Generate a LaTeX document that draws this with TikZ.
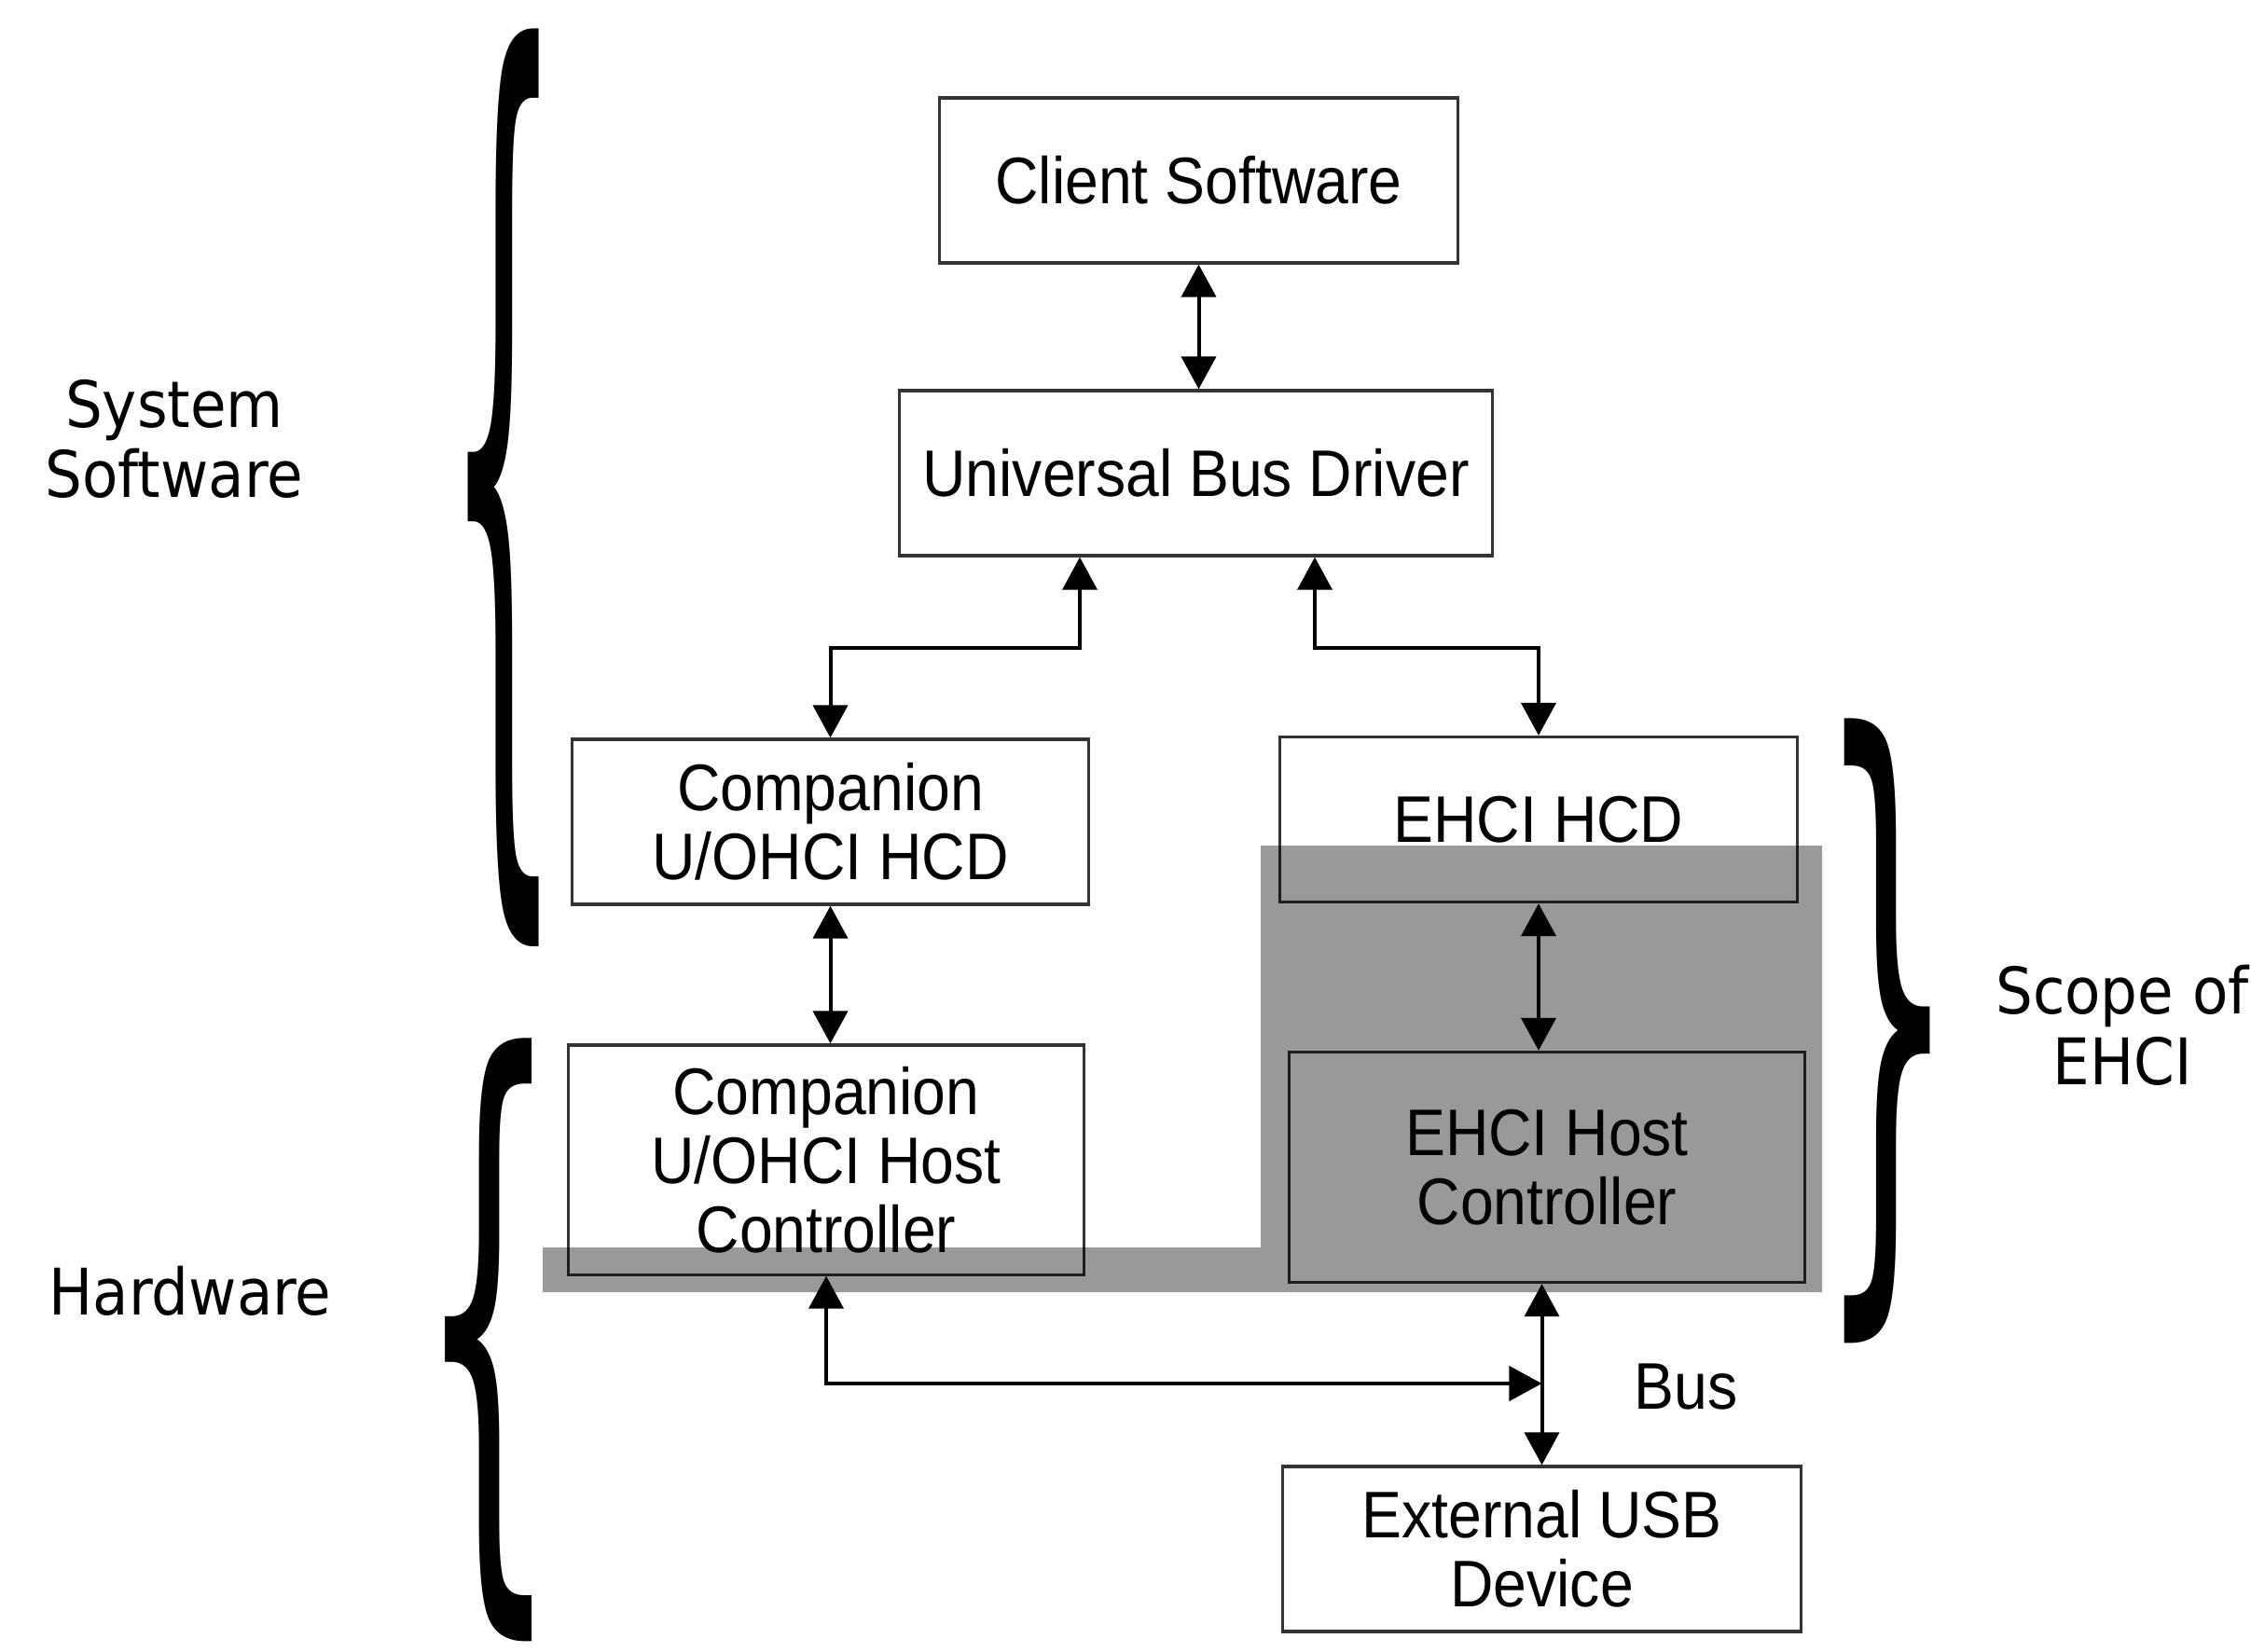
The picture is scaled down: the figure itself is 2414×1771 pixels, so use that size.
\documentclass[tikz,border=0pt]{standalone}
\usepackage{fontspec}
\setmainfont{Liberation Sans}
\newfontfamily\boxfont{Liberation Sans}[FakeStretch=0.91]
\newfontfamily\djv{DejaVu Sans}
\newfontfamily\sidefont{DejaVu Sans}[FakeStretch=0.91]
\usepackage{graphicx}
\usetikzlibrary{arrows.meta}
\definecolor{boxc}{HTML}{333333}
\begin{document}
\begin{tikzpicture}[x=0.01cm,y=-0.01cm,
  box/.style={draw=boxc, line width=0.032cm, align=center, inner sep=0pt,
              font=\boxfont\fontsize{20.1}{21}\selectfont},
  arr/.style={line width=0.04cm,
              {Triangle[length=0.35cm,width=0.37cm]}-{Triangle[length=0.35cm,width=0.37cm]}},
  side/.style={align=center, font=\sidefont\fontsize{19.6}{21.5}\selectfont},
  bracenode/.style={inner sep=0pt, outer sep=0pt}]
\useasboundingbox (0,0) rectangle (2414,1771);
\fill[white] (0,0) rectangle (2414,1771);

% boxes
\node[box, minimum width=5.55cm, minimum height=1.77cm] (client) at (1285.5,193.5) {Client Software};
\node[box, minimum width=6.35cm, minimum height=1.77cm] (ubd) at (1282.5,507.5) {Universal Bus Driver};
\node[box, minimum width=5.53cm, minimum height=1.77cm] (chcd) at (890.5,881.5) {Companion\\U/OHCI HCD};
\node[box, minimum width=5.54cm, minimum height=1.77cm] (ehcd) at (1650,879) {EHCI HCD};
\node[box, minimum width=5.52cm, minimum height=2.46cm] (chc) at (886,1244) {Companion\\U/OHCI Host\\Controller};
\node[box, minimum width=5.53cm, minimum height=2.47cm] (ehc) at (1659,1252) {EHCI Host\\Controller};
\node[box, minimum width=5.55cm, minimum height=1.77cm] (ext) at (1653.5,1661.5) {External USB\\Device};
\node[font=\boxfont\fontsize{20.1}{21}\selectfont] (bus) at (1808,1487) {Bus};

% scope shading
\fill[black, opacity=0.4] (1352,907) -- (1954,907) -- (1954,1386) -- (582,1386)
  -- (582,1338) -- (1352,1338) -- cycle;

% connectors
\coordinate (xL) at (1158,0);
\coordinate (xR) at (1410,0);
\coordinate (yM) at (0,695);
\coordinate (yB) at (0,1484);
\draw[arr] (client.south) -- (client.south |- ubd.north);
\draw[arr] (ubd.south -| xL) -- (xL |- yM) -| (chcd.north);
\draw[arr] (ubd.south -| xR) -- (xR |- yM) -| (ehcd.north);
\draw[arr] (chcd.south) -- (chcd.south |- chc.north);
\draw[arr] (ehcd.south) -- (ehcd.south |- ehc.north);
\draw[arr] (ehc.south -| ext.north) -- (ext.north);
\draw[arr] (chc.south) -- (chc.south |- yB) -- (ext.north |- yB);

% braces
\node[bracenode] (b1) at (540.5,523.5) {\resizebox*{1.25cm}{9.83cm}{\djv\{}};
\node[bracenode] (b2) at (524,1437) {\resizebox*{1.53cm}{6.46cm}{\djv\{}};
\node[bracenode] (b3) at (2024.5,1105.5) {\resizebox*{1.51cm}{6.69cm}{\djv\}}};

% side labels
\node[side] (sys) at (187,471) {System\\Software};
\node[side] (hw) at (204,1385) {Hardware};
\node[side] (scope) at (2276,1100) {Scope of\\EHCI};
\end{tikzpicture}
\end{document}
